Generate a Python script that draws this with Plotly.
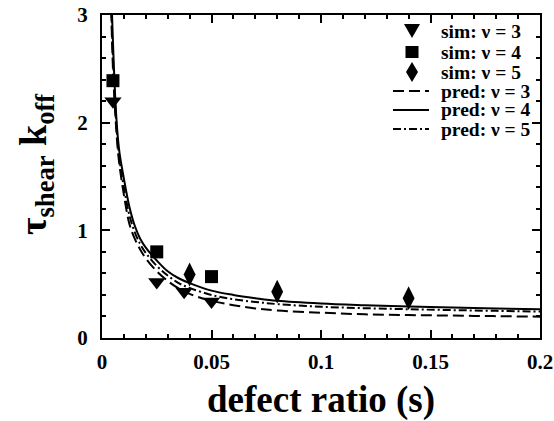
import plotly.graph_objects as go

# simulation points
sim3_x = [0.005, 0.025, 0.0375, 0.05]
sim3_y = [2.2, 0.52, 0.43, 0.34]
sim4_x = [0.005, 0.025, 0.05]
sim4_y = [2.39, 0.80, 0.57]
sim5_x = [0.04, 0.08, 0.14]
sim5_y = [0.59, 0.43, 0.37]

# predicted curves
pred3_x = [0.0042, 0.005, 0.006, 0.007, 0.008, 0.01, 0.0125, 0.015, 0.0175, 0.02, 0.025, 0.03, 0.035, 0.04,
           0.05, 0.06, 0.07, 0.08, 0.1, 0.12, 0.14, 0.16, 0.18, 0.2]
pred3_y = [3.05, 2.5, 2.1, 1.8, 1.6, 1.33, 1.06, 0.92, 0.82, 0.74, 0.62, 0.53, 0.46, 0.41,
           0.345, 0.305, 0.275, 0.255, 0.235, 0.22, 0.213, 0.208, 0.203, 0.198]
pred4_x = [0.0045, 0.005, 0.006, 0.007, 0.008, 0.01, 0.0125, 0.015, 0.0175, 0.02, 0.025, 0.03, 0.035, 0.04,
           0.05, 0.06, 0.07, 0.08, 0.1, 0.12, 0.14, 0.16, 0.18, 0.2]
pred4_y = [3.05, 2.75, 2.25, 1.92, 1.72, 1.48, 1.22, 1.04, 0.92, 0.84, 0.72, 0.62, 0.555, 0.51,
           0.44, 0.40, 0.37, 0.345, 0.32, 0.305, 0.293, 0.283, 0.274, 0.266]
pred5_x = [0.0043, 0.005, 0.006, 0.007, 0.008, 0.01, 0.0125, 0.015, 0.0175, 0.02, 0.025, 0.03, 0.035, 0.04,
           0.05, 0.06, 0.07, 0.08, 0.1, 0.12, 0.14, 0.16, 0.18, 0.2]
pred5_y = [3.05, 2.6, 2.17, 1.86, 1.65, 1.40, 1.14, 0.98, 0.87, 0.79, 0.67, 0.58, 0.51, 0.465,
           0.40, 0.36, 0.335, 0.315, 0.29, 0.277, 0.267, 0.259, 0.252, 0.246]

series_names = ["sim: ν = 3", "sim: ν = 4", "sim: ν = 5", "pred: ν = 3", "pred: ν = 4", "pred: ν = 5"]

x_ticks = [0, 0.05, 0.1, 0.15, 0.2]
x_labels = ["0", "0.05", "0.1", "0.15", "0.2"]
y_ticks = [0, 1, 2, 3]
y_labels = ["0", "1", "2", "3"]

FONT = "Liberation Serif"
W, H = 554, 421
L, R, T, B = 102, 540, 15, 338  # plot area in pixels


def px(xp):
    return (xp - L) / (R - L)


def py(yp):
    return (B - yp) / (B - T)


DASH3 = "11px,5px"
DASH5 = "8px,3px,2px,3px"

fig = go.Figure()
fig.add_trace(go.Scatter(x=sim3_x, y=sim3_y, mode="markers", name=series_names[0],
                         marker=dict(symbol="triangle-down", size=15, color="black")))
fig.add_trace(go.Scatter(x=sim4_x, y=sim4_y, mode="markers", name=series_names[1],
                         marker=dict(symbol="square", size=13, color="black")))
fig.add_trace(go.Scatter(x=sim5_x, y=sim5_y, mode="markers", name=series_names[2],
                         marker=dict(symbol="diamond-tall", size=17, color="black")))
fig.add_trace(go.Scatter(x=pred3_x, y=pred3_y, mode="lines", name=series_names[3],
                         line=dict(color="black", width=2, dash=DASH3, shape="spline")))
fig.add_trace(go.Scatter(x=pred4_x, y=pred4_y, mode="lines", name=series_names[4],
                         line=dict(color="black", width=2, dash="solid", shape="spline")))
fig.add_trace(go.Scatter(x=pred5_x, y=pred5_y, mode="lines", name=series_names[5],
                         line=dict(color="black", width=2, dash=DASH5, shape="spline")))

axis_common = dict(showline=True, linecolor="black", linewidth=2, mirror="allticks",
                   ticks="inside", ticklen=8, tickwidth=2, tickcolor="black",
                   showgrid=False, zeroline=False, automargin=False,
                   tickfont=dict(family=FONT, size=21, color="black"))

fig.update_xaxes(range=[0, 0.2], tickvals=x_ticks, ticktext=["<b>%s</b>" % t for t in x_labels],
                 minor=dict(dtick=0.01, ticks="inside", ticklen=4, tickwidth=2, tickcolor="black"),
                 title=dict(text="<b>defect ratio (s)</b>", font=dict(family=FONT, size=37, color="black"),
                            standoff=14),
                 ticklabelstandoff=4,
                 **axis_common)
fig.update_yaxes(range=[0, 3], tickvals=y_ticks, ticktext=["<b>%s</b>" % t for t in y_labels],
                 minor=dict(dtick=0.2, ticks="inside", ticklen=4, tickwidth=2, tickcolor="black"),
                 ticklabelstandoff=8,
                 **axis_common)

# y-axis title
fig.add_annotation(text="<b>τ<sub>shear</sub> k<sub>off</sub></b>", textangle=-90,
                   xref="paper", yref="paper", x=px(36), y=py(164), xanchor="center", yanchor="middle",
                   showarrow=False, font=dict(family=FONT, size=38, color="black"))

# custom legend (compact row spacing, like the reference)
row_y = [31, 52, 72, 91, 110, 129]
sym_x = 412
for name, yy in zip(series_names, row_y):
    fig.add_annotation(text="<b>%s</b>" % name, xref="paper", yref="paper",
                       x=px(439), y=py(yy), xanchor="left", yanchor="middle",
                       showarrow=False, font=dict(family=FONT, size=19.5, color="black"))

shape_common = dict(xref="paper", yref="paper", xsizemode="pixel", ysizemode="pixel",
                    fillcolor="black", line=dict(color="black", width=0))
fig.add_shape(type="path", xanchor=px(sym_x), yanchor=py(row_y[0]),
              path="M -8,7 L 8,7 L 0,-7 Z", **shape_common)
fig.add_shape(type="path", xanchor=px(sym_x), yanchor=py(row_y[1]),
              path="M -6.5,-6 L 6.5,-6 L 6.5,6 L -6.5,6 Z", **shape_common)
fig.add_shape(type="path", xanchor=px(sym_x), yanchor=py(row_y[2]),
              path="M 0,-10 L 6,0 L 0,10 L -6,0 Z", **shape_common)
for yy, dash in zip(row_y[3:], [DASH3, "solid", DASH5]):
    fig.add_shape(type="line", xref="paper", yref="paper",
                  x0=px(393), x1=px(429), y0=py(yy), y1=py(yy),
                  line=dict(color="black", width=2, dash=dash))

fig.update_layout(
    width=W, height=H,
    margin=dict(l=L, r=W - R, t=T, b=H - B, autoexpand=False),
    plot_bgcolor="white", paper_bgcolor="white",
    showlegend=False,
)

fig.write_html("out.html")
